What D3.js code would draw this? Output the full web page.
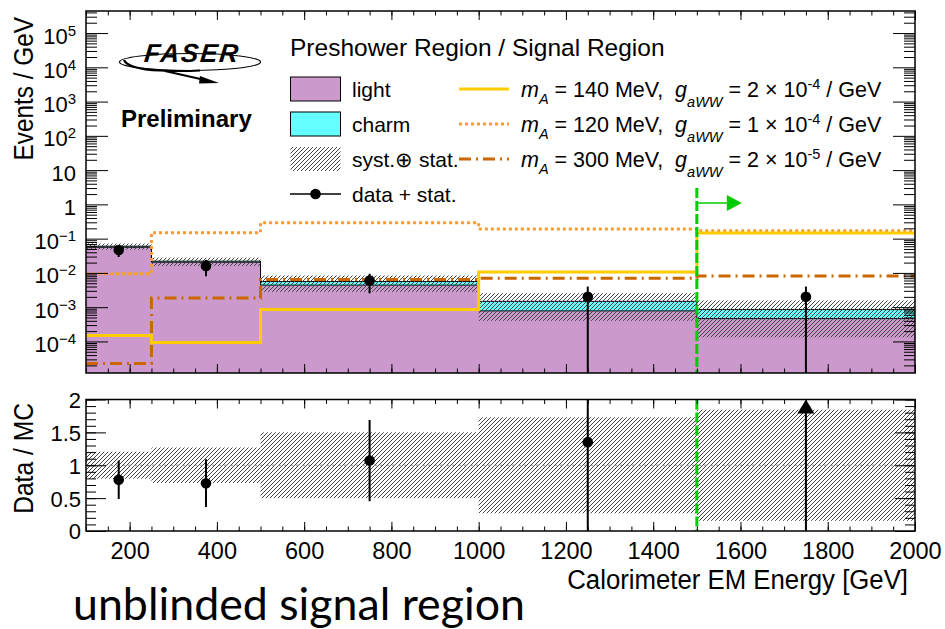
<!DOCTYPE html>
<html>
<head>
<meta charset="utf-8">
<script src="https://cdn.jsdelivr.net/npm/d3@7"></script>
<style>
  html, body { margin: 0; padding: 0; background: #fff; }
  svg { display: block; font-family: "Liberation Sans", Arial, Helvetica, sans-serif; }
  text { white-space: pre; }
</style>
</head>
<body>
<svg id="chart" width="945" height="629"></svg>
<script>
// ---------------- data (events / GeV per energy bin) ----------------
const binEdges   = [100, 250, 500, 1000, 1500, 2000];
const lightBkg   = [0.056, 0.0205, 0.0044, 0.00078, 0.000465];
const charmBkg   = [0.004, 0.0015, 0.0012, 0.0007, 0.000385];
const bkgRelUnc  = [0.205, 0.27, 0.50, 0.73, 0.845];          // syst. (+) stat., relative
const sig140     = [1.48e-4, 9.3e-5, 8.5e-4, 0.0106, 0.146];   // m_A = 140 MeV
const sig120     = [9.5e-3, 0.149, 0.29, 0.19, 0.17];          // m_A = 120 MeV
const sig300     = [2.27e-5, 1.85e-3, 6.4e-3, 0.0070, 0.0081]; // m_A = 300 MeV
const dataCenters = [175, 375, 750, 1250, 1750];
const dataValues  = [0.0467, 0.016, 0.006, 0.002, 0.002];
const dataErrors  = [0.0176, 0.008, 0.00346, 0.002, 0.002];
const signalCut   = 1500;

const xMajorTicks  = d3.range(200, 2001, 200);
const xMinorTicks  = d3.range(100, 2001, 50);
const yDecades     = d3.range(-4, 6);                 // 10^-4 ... 10^5
const ratioTicks   = [0, 0.5, 1, 1.5, 2];
const ratioMinor   = d3.range(0, 2.001, 0.1);

const legendLeft = [
  { label: "light",         kind: "light" },
  { label: "charm",         kind: "charm" },
  { label: "syst.\u2295 stat.", kind: "hatch" },
  { label: "data + stat.",  kind: "data" }
];
const legendSignals = [
  { mass: "140", coup: "2", exp: "-4", kind: "s140" },
  { mass: "120", coup: "1", exp: "-4", kind: "s120" },
  { mass: "300", coup: "2", exp: "-5", kind: "s300" }
];

// ---------------- styles ----------------
const colors = {
  light: "#cc99cc", charm: "#66ffff", hatch: "#444444",
  s140: "#ffcc00", s120: "#ff9933", s300: "#cc6600", cut: "#00cc00"
};
const sigStyle = {
  s140: { color: colors.s140, dash: null },
  s120: { color: colors.s120, dash: "3,3" },
  s300: { color: colors.s300, dash: "12,5,2,5" }
};

// ---------------- layout ----------------
const L = 86, R = 915;
const mainTop = 11, mainBot = 373;
const ratTop = 399.5, ratBot = 531;

const svg = d3.select("#chart");
const x  = d3.scaleLinear().domain([100, 2000]).range([L, R]);
const y  = d3.scaleLog().domain([1.2e-5, 4.4e5]).range([mainBot, mainTop]);
const yr = d3.scaleLinear().domain([0, 2]).range([ratBot, ratTop]);

const nBins = lightBkg.length;
const total = lightBkg.map((v, i) => v + charmBkg[i]);

// ---------------- defs ----------------
const defs = svg.append("defs");
const pat = defs.append("pattern").attr("id", "hatch")
  .attr("patternUnits", "userSpaceOnUse").attr("width", 4).attr("height", 4);
pat.append("path").attr("d", "M-1,1 L1,-1 M0,4 L4,0 M3,5 L5,3")
  .attr("stroke", colors.hatch).attr("stroke-width", 1);
defs.append("clipPath").attr("id", "clipMain").append("rect")
  .attr("x", L).attr("y", mainTop).attr("width", R - L).attr("height", mainBot - mainTop);
defs.append("clipPath").attr("id", "clipRatio").append("rect")
  .attr("x", L).attr("y", ratTop).attr("width", R - L).attr("height", ratBot - ratTop);

// step points of a binned series
function steps(vals) {
  const pts = [];
  vals.forEach((v, i) => { pts.push([binEdges[i], v]); pts.push([binEdges[i + 1], v]); });
  return pts;
}
const stepLine = d3.line().x(d => x(d[0])).y(d => y(d[1]));

// ---------------- main panel ----------------
const main = svg.append("g").attr("clip-path", "url(#clipMain)");

// stacked backgrounds
const lightArea = d3.area().x(d => x(d[0])).y0(mainBot).y1(d => y(d[1]));
main.append("path").attr("d", lightArea(steps(lightBkg))).attr("fill", colors.light);
const charmPts = [];
for (let i = 0; i < nBins; i++) {
  charmPts.push([binEdges[i], lightBkg[i], total[i]]);
  charmPts.push([binEdges[i + 1], lightBkg[i], total[i]]);
}
main.append("path")
  .attr("d", d3.area().x(d => x(d[0])).y0(d => y(d[1])).y1(d => y(d[2]))(charmPts))
  .attr("fill", colors.charm);
main.append("path").attr("d", stepLine(steps(lightBkg)))
  .attr("fill", "none").attr("stroke", "#000").attr("stroke-width", 1);
main.append("path").attr("d", stepLine(steps(total)))
  .attr("fill", "none").attr("stroke", "#000").attr("stroke-width", 1);

// uncertainty band
main.selectAll("rect.band").data(d3.range(nBins)).join("rect")
  .attr("class", "band")
  .attr("x", i => x(binEdges[i]))
  .attr("width", i => x(binEdges[i + 1]) - x(binEdges[i]))
  .attr("y", i => y(total[i] * (1 + bkgRelUnc[i])))
  .attr("height", i => y(total[i] * (1 - bkgRelUnc[i])) - y(total[i] * (1 + bkgRelUnc[i])))
  .attr("fill", "url(#hatch)");

// signal hypotheses
[["s120", sig120], ["s300", sig300], ["s140", sig140]].forEach(([k, vals]) => {
  main.append("path").attr("d", stepLine(steps(vals)))
    .attr("fill", "none").attr("stroke", sigStyle[k].color).attr("stroke-width", 3)
    .attr("stroke-dasharray", sigStyle[k].dash);
});

// data
const dataG = main.append("g");
dataCenters.forEach((c, i) => {
  const lo = dataValues[i] - dataErrors[i];
  const yLo = lo > 0 ? y(lo) : mainBot + 5;
  dataG.append("line").attr("x1", x(c)).attr("x2", x(c))
    .attr("y1", yLo).attr("y2", y(dataValues[i] + dataErrors[i]))
    .attr("stroke", "#000").attr("stroke-width", 2);
  dataG.append("circle").attr("cx", x(c)).attr("cy", y(dataValues[i])).attr("r", 5.3).attr("fill", "#000");
});

// signal region boundary
svg.append("line").attr("x1", x(signalCut)).attr("x2", x(signalCut))
  .attr("y1", 188).attr("y2", mainBot)
  .attr("stroke", colors.cut).attr("stroke-width", 3).attr("stroke-dasharray", "10,3");
svg.append("line").attr("x1", x(signalCut)).attr("x2", x(signalCut) + 31)
  .attr("y1", 203).attr("y2", 203).attr("stroke", colors.cut).attr("stroke-width", 1.5);
svg.append("path")
  .attr("d", `M${x(signalCut) + 30},195 L${x(signalCut) + 45},203 L${x(signalCut) + 30},211 Z`)
  .attr("fill", colors.cut);

// ---------------- ratio panel ----------------
const rat = svg.append("g").attr("clip-path", "url(#clipRatio)");
rat.selectAll("rect.rband").data(d3.range(nBins)).join("rect")
  .attr("class", "rband")
  .attr("x", i => x(binEdges[i]))
  .attr("width", i => x(binEdges[i + 1]) - x(binEdges[i]))
  .attr("y", i => yr(1 + bkgRelUnc[i]))
  .attr("height", i => yr(1 - bkgRelUnc[i]) - yr(1 + bkgRelUnc[i]))
  .attr("fill", "url(#hatch)");
rat.append("line").attr("x1", L).attr("x2", R).attr("y1", yr(1)).attr("y2", yr(1))
  .attr("stroke", "#888").attr("stroke-width", 1).attr("stroke-dasharray", "3,3");

svg.append("line").attr("x1", x(signalCut)).attr("x2", x(signalCut))
  .attr("y1", ratTop).attr("y2", ratBot)
  .attr("stroke", colors.cut).attr("stroke-width", 3).attr("stroke-dasharray", "10,3");

dataCenters.forEach((c, i) => {
  const r = dataValues[i] / total[i];
  const e = dataErrors[i] / total[i];
  const top = Math.min(r + e, 2);
  rat.append("line").attr("x1", x(c)).attr("x2", x(c))
    .attr("y1", yr(Math.max(r - e, 0))).attr("y2", r > 2 ? yr(2) + 10 : yr(top))
    .attr("stroke", "#000").attr("stroke-width", 2);
  if (r > 2) {
    rat.append("path")
      .attr("d", `M${x(c) - 8.5},${yr(2) + 14} L${x(c)},${yr(2)} L${x(c) + 8.5},${yr(2) + 14} Z`)
      .attr("fill", "#000");
  } else {
    rat.append("circle").attr("cx", x(c)).attr("cy", yr(r)).attr("r", 5.3).attr("fill", "#000");
  }
});

// ---------------- frames and axes ----------------
function clean(g) { g.select(".domain").remove(); g.selectAll("line").attr("stroke-width", 1); }

function xTicks(yPos, top) {
  const ax = top ? d3.axisTop : d3.axisBottom;
  svg.append("g").attr("transform", `translate(0,${yPos})`)
    .call(ax(x).tickValues(xMinorTicks).tickSize(-4.5).tickFormat("")).call(clean);
  svg.append("g").attr("transform", `translate(0,${yPos})`)
    .call(ax(x).tickValues(xMajorTicks).tickSize(-9).tickFormat("")).call(clean);
}
xTicks(mainTop, true); xTicks(mainBot, false); xTicks(ratTop, true);

// main y (log)
const yMinor = [];
for (let e = -5; e <= 5; e++) for (let k = 2; k <= 9; k++) {
  const v = k * Math.pow(10, e);
  if (v > y.domain()[0] && v < y.domain()[1]) yMinor.push(v);
}
const yMajor = yDecades.map(e => Math.pow(10, e));
[[d3.axisLeft, L], [d3.axisRight, R]].forEach(([ax, pos]) => {
  svg.append("g").attr("transform", `translate(${pos},0)`)
    .call(ax(y).tickValues(yMinor).tickSize(-11).tickFormat("")).call(clean);
  svg.append("g").attr("transform", `translate(${pos},0)`)
    .call(ax(y).tickValues(yMajor).tickSize(-22).tickFormat("")).call(clean);
});
const yLab = svg.append("g").attr("font-size", 22).attr("text-anchor", "end");
yDecades.forEach(e => {
  const t = yLab.append("text").attr("x", 76).attr("y", y(Math.pow(10, e)) + 10.5);
  if (e === 0) t.text("1");
  else if (e === 1) t.text("10");
  else {
    t.append("tspan").text("10");
    t.append("tspan").attr("dy", -8).attr("font-size", 15).text(e < 0 ? "\u2212" + (-e) : String(e));
  }
});

// ratio y
[[d3.axisLeft, L], [d3.axisRight, R]].forEach(([ax, pos], idx) => {
  svg.append("g").attr("transform", `translate(${pos},0)`)
    .call(ax(yr).tickValues(ratioMinor).tickSize(-10).tickFormat("")).call(clean);
  const g = svg.append("g").attr("transform", `translate(${pos},0)`)
    .call(ax(yr).tickValues(ratioTicks).tickSizeInner(-20).tickSizeOuter(0).tickPadding(5)
      .tickFormat(idx === 0 ? d3.format("~g") : ""))
    .call(clean);
  g.attr("font-size", 22).attr("font-family", null);
  g.selectAll("text").attr("dy", "0.36em").attr("fill", "#000");
});

// ratio x with labels
svg.append("g").attr("transform", `translate(0,${ratBot})`)
  .call(d3.axisBottom(x).tickValues(xMinorTicks).tickSize(-4.5).tickFormat("")).call(clean);
const xa = svg.append("g").attr("transform", `translate(0,${ratBot})`)
  .call(d3.axisBottom(x).tickValues(xMajorTicks).tickSizeInner(-9).tickSizeOuter(0)
    .tickPadding(11).tickFormat(d3.format("d")))
  .call(clean);
xa.attr("font-size", 23.5).attr("font-family", null);
xa.selectAll("text").attr("fill", "#000");

// frames
[[mainTop, mainBot], [ratTop, ratBot]].forEach(([t, b]) => {
  svg.append("rect").attr("x", L).attr("y", t).attr("width", R - L).attr("height", b - t)
    .attr("fill", "none").attr("stroke", "#000").attr("stroke-width", 1.5);
});

// axis titles (slightly condensed face)
function title(txt, tx, ty, rot, anchor, size, sx) {
  svg.append("g").attr("transform", `translate(${tx},${ty}) rotate(${rot}) scale(${sx},1)`)
    .append("text").attr("text-anchor", anchor).attr("font-size", size).text(txt);
}
title("Events / GeV", 33, 17, -90, "end", 28, 0.87);
title("Data / MC", 33, 403, -90, "end", 28, 0.88);
title("Calorimeter EM Energy [GeV]", 908, 589, 0, "end", 27, 0.955);

// ---------------- logo and labels ----------------
const logo = svg.append("g");
logo.append("ellipse").attr("cx", 190).attr("cy", 62).attr("rx", 70.5).attr("ry", 8.5)
  .attr("fill", "none").attr("stroke", "#000").attr("stroke-width", 1.2);
logo.append("path").attr("d", "M124,60 Q128,69 160,70.5 Q180,71.5 200,70.5")
  .attr("fill", "none").attr("stroke", "#000").attr("stroke-width", 2.2);
logo.append("path").attr("d", "M165,71 L207,80.5").attr("stroke", "#000").attr("stroke-width", 2);
logo.append("path").attr("d", "M200,76 L219,83 L199,83.5 Z").attr("fill", "#000");
logo.append("text").attr("x", 144).attr("y", 62).attr("font-size", 26)
  .attr("font-weight", "bold").attr("font-style", "italic").attr("letter-spacing", 1.8)
  .attr("transform", "skewX(-6) translate(6,0)")
  .text("FASER");
svg.append("text").attr("x", 121).attr("y", 127).attr("font-size", 24)
  .attr("font-weight", "bold").text("Preliminary");

// ---------------- legend ----------------
const leg = svg.append("g");
leg.append("text").attr("x", 290).attr("y", 56).attr("font-size", 24.5)
  .text("Preshower Region / Signal Region");
const rowY = [89, 124, 159, 194];
legendLeft.forEach((d, i) => {
  const cy = rowY[i];
  if (d.kind === "light" || d.kind === "charm") {
    leg.append("rect").attr("x", 290.5).attr("y", cy - 12).attr("width", 50).attr("height", 24)
      .attr("fill", colors[d.kind]).attr("stroke", "#000").attr("stroke-width", 1);
  } else if (d.kind === "hatch") {
    leg.append("rect").attr("x", 290.5).attr("y", cy - 12).attr("width", 50).attr("height", 24)
      .attr("fill", "url(#hatch)");
  } else {
    leg.append("line").attr("x1", 290).attr("x2", 341).attr("y1", cy).attr("y2", cy)
      .attr("stroke", "#000").attr("stroke-width", 1.5);
    leg.append("circle").attr("cx", 315.5).attr("cy", cy).attr("r", 5.3).attr("fill", "#000");
  }
  leg.append("text").attr("x", 352).attr("y", cy + 7.5).attr("font-size", 21).text(d.label);
});
legendSignals.forEach((d, i) => {
  const cy = rowY[i];
  leg.append("line").attr("x1", 459).attr("x2", 509).attr("y1", cy).attr("y2", cy)
    .attr("stroke", sigStyle[d.kind].color).attr("stroke-width", 3)
    .attr("stroke-dasharray", sigStyle[d.kind].dash);
  const t = leg.append("text").attr("x", 521).attr("y", cy + 7.5).attr("font-size", 21.5);
  t.append("tspan").attr("font-style", "italic").text("m");
  t.append("tspan").attr("font-style", "italic").attr("font-size", 14.5).attr("dy", 7).text("A");
  t.append("tspan").attr("dy", -7).text(` = ${d.mass} MeV,  `);
  t.append("tspan").attr("font-style", "italic").text("g");
  t.append("tspan").attr("font-style", "italic").attr("font-size", 14.5).attr("dy", 10).text("aWW");
  t.append("tspan").attr("dy", -10).text(` = ${d.coup} \u00d7 10`);
  t.append("tspan").attr("font-size", 14.5).attr("dy", -8).text(d.exp);
  t.append("tspan").attr("dy", 8).text(" / GeV");
});

// slide caption
svg.append("text").attr("x", 73).attr("y", 620)
  .attr("font-family", "Lato, 'Open Sans', sans-serif").attr("font-size", 44)
  .attr("textLength", 452).attr("lengthAdjust", "spacingAndGlyphs")
  .text("unblinded signal region");
</script>
</body>
</html>
